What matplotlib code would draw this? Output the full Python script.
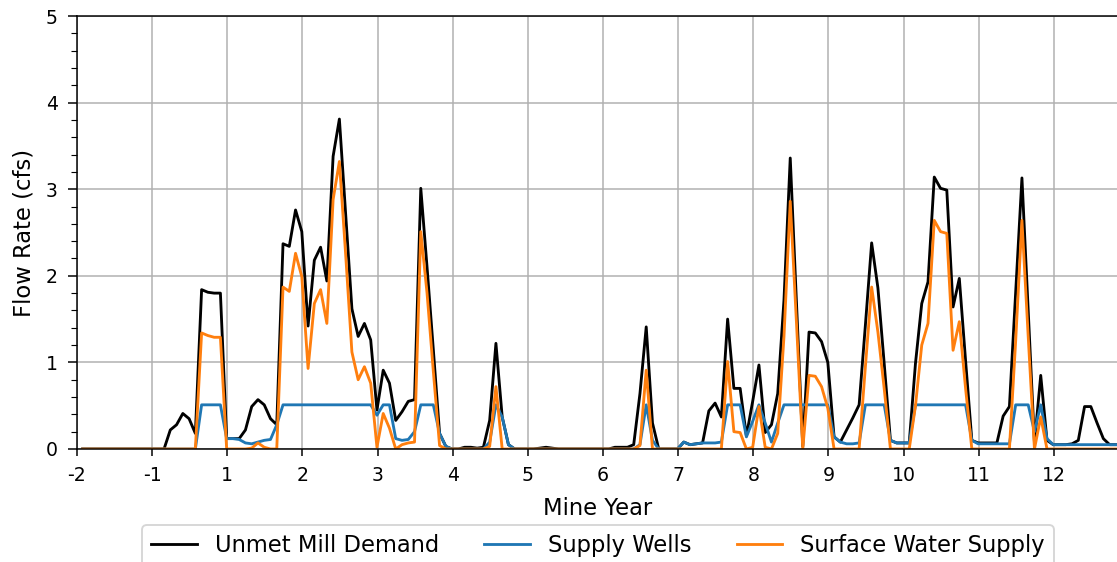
import numpy as np
import matplotlib.pyplot as plt
from matplotlib.ticker import MultipleLocator

# monthly flows (cfs), month 0 = start of mine year -2
unmet_demand = ([0.0] * 14 +
    [0.22, 0.28, 0.41, 0.35, 0.18, 1.84, 1.81, 1.80, 1.80, 0.12,
     0.12, 0.12, 0.22, 0.49, 0.57, 0.51, 0.35, 0.28, 2.37, 2.34,
     2.76, 2.51, 1.42, 2.18, 2.33, 1.94, 3.38, 3.81, 2.72, 1.62,
     1.30, 1.45, 1.26, 0.45, 0.91, 0.76, 0.33, 0.43, 0.55, 0.57,
     3.01, 2.10, 1.15, 0.18, 0.03, 0.0, 0.0, 0.02, 0.02, 0.01,
     0.02, 0.33, 1.22, 0.37, 0.05, 0.0, 0.0, 0.0, 0.0, 0.01,
     0.02, 0.01] + [0.0] * 9 +
    [0.02, 0.02, 0.02, 0.05, 0.64, 1.41, 0.30, 0.0, 0.0, 0.0,
     0.0, 0.08, 0.05, 0.06, 0.07, 0.44, 0.53, 0.37, 1.50, 0.70,
     0.70, 0.15, 0.55, 0.97, 0.19, 0.28, 0.64, 1.72, 3.36, 1.68,
     0.03, 1.35, 1.34, 1.24, 1.00, 0.14, 0.08, 0.22, 0.36, 0.51,
     1.43, 2.38, 1.86, 0.99, 0.10, 0.07, 0.07, 0.07, 0.99, 1.68,
     1.93, 3.14, 3.01, 2.99, 1.64, 1.97, 1.02, 0.10, 0.07, 0.07,
     0.07, 0.07, 0.38, 0.49, 1.80, 3.13, 1.60, 0.07, 0.85, 0.10,
     0.05, 0.05, 0.05, 0.06, 0.10, 0.49, 0.49, 0.30, 0.12, 0.05,
     0.05])

supply_wells = ([0.0] * 19 +
    [0.51, 0.51, 0.51, 0.51, 0.12, 0.12, 0.11, 0.07, 0.06, 0.08,
     0.10, 0.11, 0.28] + [0.51] * 15 +
    [0.39, 0.51, 0.51, 0.12, 0.10, 0.11, 0.20, 0.51, 0.51, 0.51,
     0.18, 0.03] + [0.0] * 6 +
    [0.08, 0.51, 0.37, 0.05] + [0.0] * 20 +
    [0.05, 0.51, 0.10, 0.0, 0.0, 0.0, 0.0, 0.08, 0.05, 0.06,
     0.07, 0.07, 0.07, 0.08, 0.51, 0.51, 0.51, 0.14, 0.32, 0.51,
     0.30, 0.08, 0.30] + [0.51] * 8 +
    [0.14, 0.08, 0.06, 0.06, 0.07, 0.51, 0.51, 0.51, 0.51, 0.10,
     0.07, 0.07, 0.07] + [0.51] * 9 +
    [0.10, 0.06, 0.06, 0.06, 0.06, 0.06, 0.06, 0.51, 0.51, 0.51,
     0.20, 0.51, 0.12] + [0.05] * 11)

surface_water = ([0.0] * 19 +
    [1.34, 1.31, 1.29, 1.29, 0.0, 0.0, 0.0, 0.0, 0.01, 0.07,
     0.02, 0.0, 0.0, 1.87, 1.82, 2.26, 1.99, 0.93, 1.68, 1.84,
     1.45, 2.88, 3.32, 2.25, 1.12, 0.80, 0.95, 0.76, 0.02, 0.41,
     0.24, 0.0, 0.05, 0.07, 0.08, 2.51, 1.80, 0.90, 0.04] + [0.0] * 7 +
    [0.03, 0.72] + [0.0] * 22 +
    [0.04, 0.91] + [0.0] * 12 +
    [1.01, 0.20, 0.19, 0.0, 0.02, 0.49, 0.02, 0.0, 0.18, 1.30,
     2.86, 1.45, 0.0, 0.85, 0.84, 0.72, 0.47, 0.0, 0.0, 0.0,
     0.0, 0.0, 0.95, 1.87, 1.35, 0.70, 0.0, 0.0, 0.0, 0.0,
     0.50, 1.20, 1.45, 2.64, 2.51, 2.49, 1.14, 1.47, 0.70] + [0.0] * 7 +
    [1.25, 2.64, 1.30, 0.0, 0.37] + [0.0] * 12)

year_labels = ['-2', '-1', '1', '2', '3', '4', '5', '6', '7', '8', '9', '10', '11', '12']

months = np.arange(len(unmet_demand)) + 0.9

fig = plt.figure(figsize=(1117 / 136, 562 / 136), dpi=136)
ax = fig.add_axes([77 / 1117, 113 / 562, 1042 / 1117, 433 / 562])

ax.plot(months, unmet_demand, color='k', label='Unmet Mill Demand')
ax.plot(months, supply_wells, color='tab:blue', label='Supply Wells')
ax.plot(months, surface_water, color='tab:orange', label='Surface Water Supply')

ax.set_xlim(0, 166.4)
ax.set_ylim(0, 5)
ax.set_xticks(np.arange(len(year_labels)) * 12)
ax.set_xticklabels(year_labels)
ax.yaxis.set_minor_locator(MultipleLocator(0.2))
ax.tick_params(axis='x', length=3.8, pad=5)
ax.tick_params(axis='y', which='major', length=4.8, pad=5.3)
ax.tick_params(axis='y', which='minor', length=3)
ax.grid(True)
ax.set_xlabel('Mine Year', fontsize=12, labelpad=6.5)
ax.set_ylabel('Flow Rate (cfs)', fontsize=12, labelpad=5.5)
ax.legend(loc='upper center', bbox_to_anchor=(0.5, -0.15), ncol=3, fontsize=12)

fig.savefig('out.png', dpi=136)
